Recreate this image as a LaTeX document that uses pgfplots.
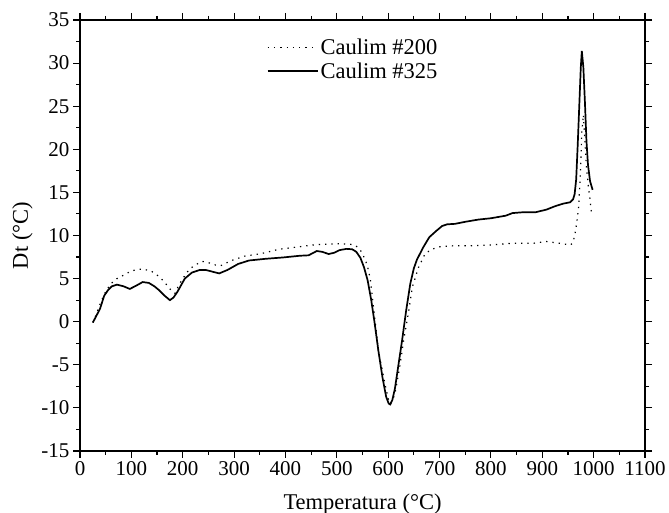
\documentclass[border=0pt]{standalone}
\usepackage{fontspec}
\setmainfont{Liberation Serif}
\usepackage{pgfplots}
\pgfplotsset{compat=1.18}

\pgfplotstableread{
x y
25 -0.1
32 0.7
39 1.5
47 3.0
55 3.7
62 4.1
72 4.3
85 4.1
97 3.8
110 4.2
122 4.6
134 4.5
145 4.1
155 3.6
165 3.0
175 2.5
182 2.8
190 3.5
204 5.0
218 5.7
233 6.0
245 6.0
258 5.8
271 5.6
287 6.0
308 6.7
329 7.1
362 7.3
395 7.45
428 7.65
445 7.7
461 8.2
472 8.1
484 7.85
495 8.0
505 8.3
519 8.45
530 8.4
538 8.1
546 7.4
553 6.3
560 4.8
567 2.5
573 0.1
581 -3.4
589 -6.5
596 -8.7
601 -9.5
604 -9.6
608 -9.1
613 -7.8
618 -5.8
627 -2.2
635 1.3
643 4.4
650 6.2
656 7.2
668 8.6
680 9.8
693 10.5
705 11.1
715 11.3
730 11.35
751 11.6
776 11.85
800 12.0
829 12.3
842 12.6
863 12.7
887 12.7
908 13.0
925 13.4
941 13.7
954 13.85
960 14.2
963 14.8
966 16.5
969 20.5
972 25.0
975 29.5
977 31.4
980 29.5
983 25.5
986 21.0
989 18.2
993 16.3
998 15.3
}\caulimC

\pgfplotstableread{
x y
25 -0.1
32 0.9
40 2.2
50 3.5
60 4.4
72 5.0
85 5.4
97 5.8
110 6.05
122 6.1
138 5.9
155 5.2
167 4.4
178 3.6
185 3.3
192 4.2
200 5.0
213 6.1
225 6.6
238 7.0
250 6.85
262 6.6
274 6.5
295 7.1
320 7.6
353 7.9
387 8.4
428 8.7
461 8.95
502 9.05
525 9.0
536 8.85
545 8.4
552 7.6
559 6.6
565 5.0
573 0.9
581 -3.4
594 -7.3
600 -8.9
604 -9.5
609 -9.1
614 -8.1
622 -5.4
630 -2.2
639 0.9
647 4.0
659 6.3
672 7.9
685 8.4
701 8.7
726 8.8
759 8.8
800 8.9
842 9.1
883 9.1
908 9.3
933 9.1
955 8.9
960 9.2
964 10.3
967 11.4
969 12.4
971 13.4
974 17.0
977 22.0
980 24.0
983 21.0
986 18.0
990 15.5
993 14.2
996 12.4
}\caulimB

\begin{document}
\begin{tikzpicture}
% fixed page frame: axis box 565x431 with the reference's margins
\useasboundingbox (-80pt,-62pt) rectangle (589pt,451pt);
\begin{axis}[
scale only axis,
width=565pt, height=431pt,
xmin=0, xmax=1100,
ymin=-15, ymax=35,
xtick={0,100,...,1100},
ytick={-15,-10,...,35},
minor x tick num=1,
minor y tick num=1,
tick align=outside,
major tick length=7pt,
minor tick length=4pt,
axis line style={line width=1.3pt},
every tick/.style={black, line width=1.1pt},
/pgf/number format/assume math mode=true,
/pgf/number format/1000 sep={},
ticklabel style={font=\fontsize{21}{25}\selectfont},
xlabel={Temperatura (°C)},
ylabel={Dt (°C)},
label style={font=\fontsize{22.5}{27}\selectfont},
xlabel style={at={(axis description cs:0.5,-0.123)}, anchor=center},
ylabel style={at={(axis description cs:-0.102,0.5)}, anchor=center},
legend cell align=left,
legend style={draw=none, fill=none, at={(0.325,0.965)}, anchor=north west,
  font=\fontsize{22.5}{27}\selectfont, row sep=2pt},
legend image code/.code={\draw[#1] (0pt,0pt) -- (50pt,0pt);},
]
\addplot[black, line width=1.2pt, dash pattern=on 1.3pt off 5pt] table {\caulimB};
\addlegendentry{Caulim \#200}
\addplot[black, line width=1.7pt] table {\caulimC};
\addlegendentry{Caulim \#325}
\end{axis}
\end{tikzpicture}
\end{document}
